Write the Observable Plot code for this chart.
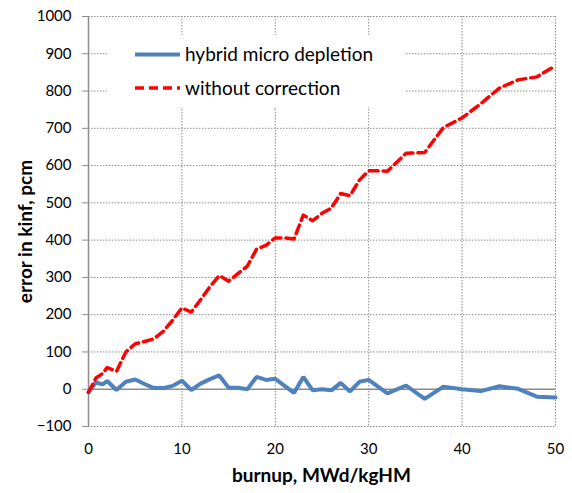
<!DOCTYPE html>
<html>
<head>
<meta charset="utf-8">
<script src="https://cdn.jsdelivr.net/npm/d3@7"></script>
<script src="https://cdn.jsdelivr.net/npm/@observablehq/plot@0.6"></script>
<style>
  html, body { margin: 0; padding: 0; background: #fff; }
  #chart { position: relative; width: 572px; height: 493px; }
</style>
</head>
<body>
<div id="chart"></div>
<script>
const burnup = [0, 0.8, 1.5, 2, 3, 4, 5, 6, 7, 8, 9, 10, 11, 12, 13, 14, 15, 16, 17, 18, 19, 20, 21, 22, 23, 24, 25, 26, 27, 28, 29, 30, 31, 32, 34, 36, 38, 40, 42, 44, 46, 48, 50];
const hybridMicro = [-8, 18, 13, 22, -2, 20, 26, 14, 3, 3, 9, 23, -2, 15, 27, 37, 4, 4, 0, 33, 25, 28, 9, -10, 33, -3, 0, -3, 17, -6, 20, 25, 7, -11, 10, -26, 7, 0, -5, 8, 1, -20, -22];
const withoutCorrection = [-8, 30, 42, 58, 48, 100, 122, 128, 135, 155, 185, 218, 207, 240, 275, 305, 290, 310, 330, 376, 386, 406, 406, 403, 467, 452, 472, 486, 525, 519, 561, 586, 586, 585, 633, 635, 702, 728, 766, 808, 830, 838, 868];
const seriesNames = ["hybrid micro depletion", "without correction"];
const xTicks = [0, 10, 20, 30, 40, 50];
const yTicks = [-100, 0, 100, 200, 300, 400, 500, 600, 700, 800, 900, 1000];
const xTitle = "burnup, MWd/kgHM";
const yTitle = "error in kinf, pcm";

const blueData = burnup.map((b, i) => ({x: b, y: hybridMicro[i]}));
const redData = burnup.map((b, i) => ({x: b, y: withoutCorrection[i]}));

const gridColor = "#8c8c8c";
const font = "Lato, 'Open Sans', sans-serif";

const svg = Plot.plot({
  width: 572,
  height: 493,
  marginLeft: 88,
  marginRight: 17,
  marginTop: 16,
  marginBottom: 67,
  x: {domain: [0, 50]},
  y: {domain: [-100, 1000]},
  style: {fontFamily: font, fontSize: "15px", color: "#000", background: "#fff"},
  marks: [
    Plot.gridX(xTicks.filter(d => d !== 0), {stroke: gridColor, strokeOpacity: 1, strokeDasharray: "1.5,1.5"}),
    Plot.gridY(yTicks.filter(d => d !== 0), {stroke: gridColor, strokeOpacity: 1, strokeDasharray: "1.5,1.5"}),
    Plot.ruleY([0], {stroke: gridColor, strokeWidth: 1.5}),
    Plot.ruleX([0], {stroke: gridColor, strokeWidth: 1.5}),
    Plot.axisY(yTicks, {tickSize: 6, tickPadding: 11, tickFormat: d3.format("d"), label: null, stroke: gridColor, fontSize: 15}),
    Plot.axisX(xTicks, {tickSize: 0, tickPadding: 17, tickFormat: d3.format("d"), label: null, fontSize: 15}),
    Plot.line(blueData, {x: "x", y: "y", stroke: "#4F81BD", strokeWidth: 4, strokeLinejoin: "miter"}),
    Plot.line(redData, {x: "x", y: "y", stroke: "#FF0000", strokeWidth: 3.5, strokeDasharray: "9,5"})
  ]
});

const root = d3.select(svg);

// axis titles
root.append("text")
  .attr("transform", "translate(25,231.5) rotate(-90)")
  .attr("text-anchor", "middle").attr("dy", "0.35em")
  .attr("font-family", font).attr("font-size", 19).attr("font-weight", "bold").attr("fill", "#000")
  .text(yTitle);
root.append("text")
  .attr("x", 321.5).attr("y", 475.5)
  .attr("text-anchor", "middle").attr("dy", "0.35em")
  .attr("font-family", font).attr("font-size", 19).attr("font-weight", "bold").attr("fill", "#000")
  .text(xTitle);

// legend inside the plot area
const g = root.append("g").attr("font-family", font).attr("font-size", 19).attr("text-anchor", "start");
g.append("rect").attr("x", 107).attr("y", 35).attr("width", 298).attr("height", 72).attr("fill", "#fff");
const legendItems = [
  {name: seriesNames[0], stroke: "#4F81BD", width: 4, dash: null, y: 54.5},
  {name: seriesNames[1], stroke: "#FF0000", width: 3.5, dash: "9,5", y: 88}
];
for (const it of legendItems) {
  g.append("line").attr("x1", 135).attr("x2", 180).attr("y1", it.y).attr("y2", it.y)
    .attr("stroke", it.stroke).attr("stroke-width", it.width).attr("stroke-dasharray", it.dash);
  g.append("text").attr("x", 185).attr("y", it.y).attr("dy", "0.35em").attr("text-anchor", "start")
    .attr("fill", "#000").text(it.name);
}

document.getElementById("chart").appendChild(svg);
</script>
</body>
</html>
